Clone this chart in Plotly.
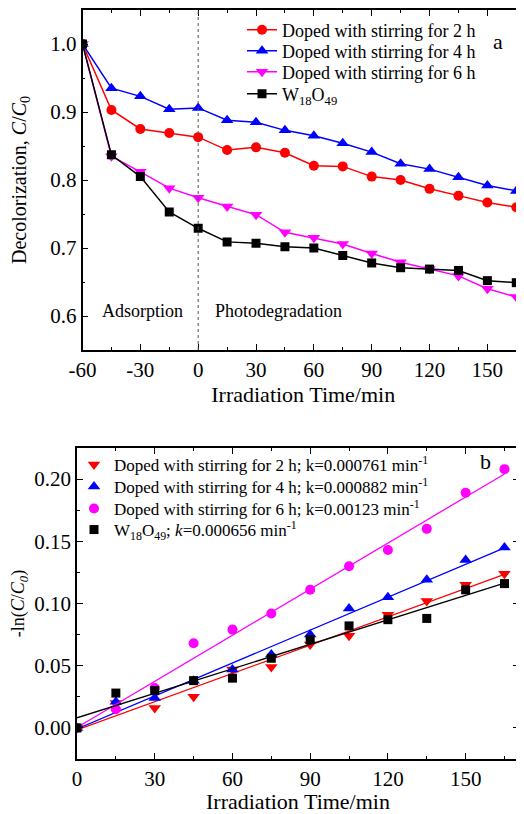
import numpy as np
import plotly.graph_objects as go

# ---------------- data: panel a ----------------
time_a = [-60, -45, -30, -15, 0, 15, 30, 45, 60, 75, 90, 105, 120, 135, 150, 165]
cc0_2h = [1.0, 0.903, 0.875, 0.869, 0.863, 0.844, 0.848, 0.840, 0.821, 0.820, 0.805, 0.800, 0.787, 0.777, 0.767, 0.760]
cc0_4h = [1.0, 0.935, 0.923, 0.904, 0.906, 0.888, 0.885, 0.873, 0.865, 0.854, 0.841, 0.824, 0.816, 0.804, 0.792, 0.784]
cc0_6h = [1.0, 0.835, 0.812, 0.788, 0.774, 0.761, 0.749, 0.723, 0.715, 0.706, 0.692, 0.679, 0.669, 0.659, 0.640, 0.628]
cc0_w = [1.0, 0.837, 0.805, 0.753, 0.729, 0.709, 0.707, 0.702, 0.700, 0.689, 0.678, 0.671, 0.669, 0.667, 0.652, 0.649]

# ---------------- data: panel b ----------------
time_b = [0, 15, 30, 45, 60, 75, 90, 105, 120, 135, 150, 165]
ln_2h = [0.0, 0.020, 0.016, 0.025, 0.047, 0.049, 0.067, 0.074, 0.091, 0.102, 0.115, 0.124]
ln_4h = [0.0, 0.021, 0.024, 0.038, 0.047, 0.059, 0.075, 0.096, 0.105, 0.119, 0.135, 0.145]
ln_6h = [0.0, 0.015, 0.032, 0.068, 0.079, 0.092, 0.111, 0.130, 0.143, 0.160, 0.189, 0.208]
ln_w = [0.0, 0.028, 0.030, 0.038, 0.040, 0.056, 0.071, 0.082, 0.087, 0.088, 0.111, 0.116]

names_a = ["Doped with stirring for 2 h", "Doped with stirring for 4 h",
           "Doped with stirring for 6 h", "W<sub>18</sub>O<sub>49</sub>"]
names_b = ["Doped with stirring for 2 h; k=0.000761 min<sup>-1</sup>",
           "Doped with stirring for 4 h; k=0.000882 min<sup>-1</sup>",
           "Doped with stirring for 6 h; k=0.00123 min<sup>-1</sup>",
           "W<sub>18</sub>O<sub>49</sub>; <i>k</i>=0.000656 min<sup>-1</sup>"]

xticks_a = [-60, -30, 0, 30, 60, 90, 120, 150]
xticklabels_a = ["-60", "-30", "0", "30", "60", "90", "120", "150"]
xminor_a = [-45, -15, 15, 45, 75, 105, 135, 165]
yticks_a = [0.6, 0.7, 0.8, 0.9, 1.0]
yticklabels_a = ["0.6", "0.7", "0.8", "0.9", "1.0"]
yminor_a = [0.55, 0.65, 0.75, 0.85, 0.95, 1.05]

xticks_b = [0, 30, 60, 90, 120, 150]
xticklabels_b = ["0", "30", "60", "90", "120", "150"]
xminor_b = [15, 45, 75, 105, 135, 165]
yticks_b = [0.0, 0.05, 0.10, 0.15, 0.20]
yticklabels_b = ["0.00", "0.05", "0.10", "0.15", "0.20"]
yminor_b = [-0.025, 0.025, 0.075, 0.125, 0.175, 0.225]

FONT = "Liberation Serif"
OFF = 8                      # page body margin in the browser
W, H = 524 - OFF, 814 - OFF  # figure size so that it fills the window


def px(x):
    return (x - OFF) / W


def py(y):
    return 1 - (y - OFF) / H


fig = go.Figure()

colors = ["#ff0000", "#0000ff", "#ff00ff", "#000000"]
sym_a = ["circle", "triangle-up", "triangle-down", "square"]
sizes_a = [10, 11, 11, 9]
leg_a = ["legend", "legend2", "legend3", "legend4"]
for ys, nm, c, s, sz, lg in zip([cc0_2h, cc0_4h, cc0_6h, cc0_w], names_a, colors, sym_a, sizes_a, leg_a):
    fig.add_trace(go.Scatter(x=time_a, y=ys, name=nm, mode="lines+markers",
                             line=dict(color=c, width=1.5),
                             marker=dict(symbol=s, size=sz, color=c),
                             xaxis="x", yaxis="y", legend=lg))

sym_b = ["triangle-down", "triangle-up", "circle", "square"]
sizes_b = [11, 11, 10, 9]
leg_b = ["legend5", "legend6", "legend7", "legend8"]
for ys, nm, c, s, sz, lg in zip([ln_2h, ln_4h, ln_6h, ln_w], names_b, colors, sym_b, sizes_b, leg_b):
    fig.add_trace(go.Scatter(x=time_b, y=ys, name=nm, mode="markers",
                             marker=dict(symbol=s, size=sz, color=c),
                             xaxis="x2", yaxis="y2", legend=lg))
    k, b = np.polyfit(time_b, ys, 1)
    xf = np.array([time_b[0], time_b[-1]], dtype=float)
    fig.add_trace(go.Scatter(x=xf, y=k * xf + b, mode="lines", showlegend=False,
                             line=dict(color=c, width=1.3), hoverinfo="skip",
                             xaxis="x2", yaxis="y2"))

ax_common = dict(showline=True, linecolor="black", linewidth=1.5, ticks="inside",
                 ticklen=6, tickwidth=1.2, tickcolor="black", showgrid=False, zeroline=False,
                 tickfont=dict(family=FONT, size=21, color="black"), tickmode="array",
                 automargin=False)

legends = {}
rows_a = [30, 51, 72, 94]
for lg, yy in zip(leg_a, rows_a):
    legends[lg] = dict(x=px(242), y=py(yy), xanchor="left", yanchor="middle",
                       bgcolor="rgba(0,0,0,0)", font=dict(family=FONT, size=18))
rows_b = [465, 487, 509, 530]
for lg, yy in zip(leg_b, rows_b):
    legends[lg] = dict(x=px(74), y=py(yy), xanchor="left", yanchor="middle",
                       bgcolor="rgba(0,0,0,0)", font=dict(family=FONT, size=17))

fig.update_layout(
    width=W, height=H, margin=dict(l=0, r=0, t=0, b=0),
    paper_bgcolor="white", plot_bgcolor="white",
    font=dict(family=FONT, color="black"),
    xaxis=dict(domain=[px(82.5), 1.0], range=[-60, 169], anchor="y", mirror="ticks",
               tickvals=xticks_a, ticktext=xticklabels_a,
               minor=dict(tickvals=xminor_a, ticks="inside", ticklen=3, tickcolor="black"),
               title=dict(text="Irradiation Time/min", font=dict(family=FONT, size=22), standoff=6),
               **ax_common),
    yaxis=dict(domain=[py(350), py(10)], range=[0.55, 1.05], anchor="x", mirror=False,
               tickvals=yticks_a, ticktext=yticklabels_a,
               minor=dict(tickvals=yminor_a, ticks="inside", ticklen=3, tickcolor="black"),
               title=dict(text="Decolorization, <i>C</i>/<i>C</i><sub>0</sub>",
                          font=dict(family=FONT, size=20), standoff=19),
               **ax_common),
    xaxis2=dict(domain=[px(77), px(519)], range=[0, 170.6], anchor="y2", mirror="ticks",
                tickvals=xticks_b, ticktext=xticklabels_b,
                minor=dict(tickvals=xminor_b, ticks="inside", ticklen=3, tickcolor="black"),
                title=dict(text="Irradiation Time/min", font=dict(family=FONT, size=22), standoff=8),
                **ax_common),
    yaxis2=dict(domain=[py(759), py(448)], range=[-0.025, 0.225], anchor="x2", mirror="ticks",
                tickvals=yticks_b, ticktext=yticklabels_b,
                minor=dict(tickvals=yminor_b, ticks="inside", ticklen=3, tickcolor="black"),
                title=dict(text="-ln(<i>C</i>/<i>C</i><sub><i>0</i></sub>)",
                           font=dict(family=FONT, size=18), standoff=15),
                **ax_common),
    shapes=[dict(type="line", xref="x", yref="y domain", x0=0, x1=0, y0=0, y1=1,
                 line=dict(color="#555555", width=1, dash="dot"))],
    annotations=[
        dict(text="Adsorption", x=-29, y=0.608, xref="x", yref="y", showarrow=False,
             font=dict(family=FONT, size=18)),
        dict(text="Photodegradation", x=41.5, y=0.608, xref="x", yref="y", showarrow=False,
             font=dict(family=FONT, size=18)),
        dict(text="a", x=px(505), y=py(27), xref="paper", yref="paper", showarrow=False,
             font=dict(family=FONT, size=22)),
        dict(text="b", x=px(493), y=py(461), xref="paper", yref="paper", showarrow=False,
             font=dict(family=FONT, size=22)),
    ],
    **legends,
)

fig.write_html("out.html")
